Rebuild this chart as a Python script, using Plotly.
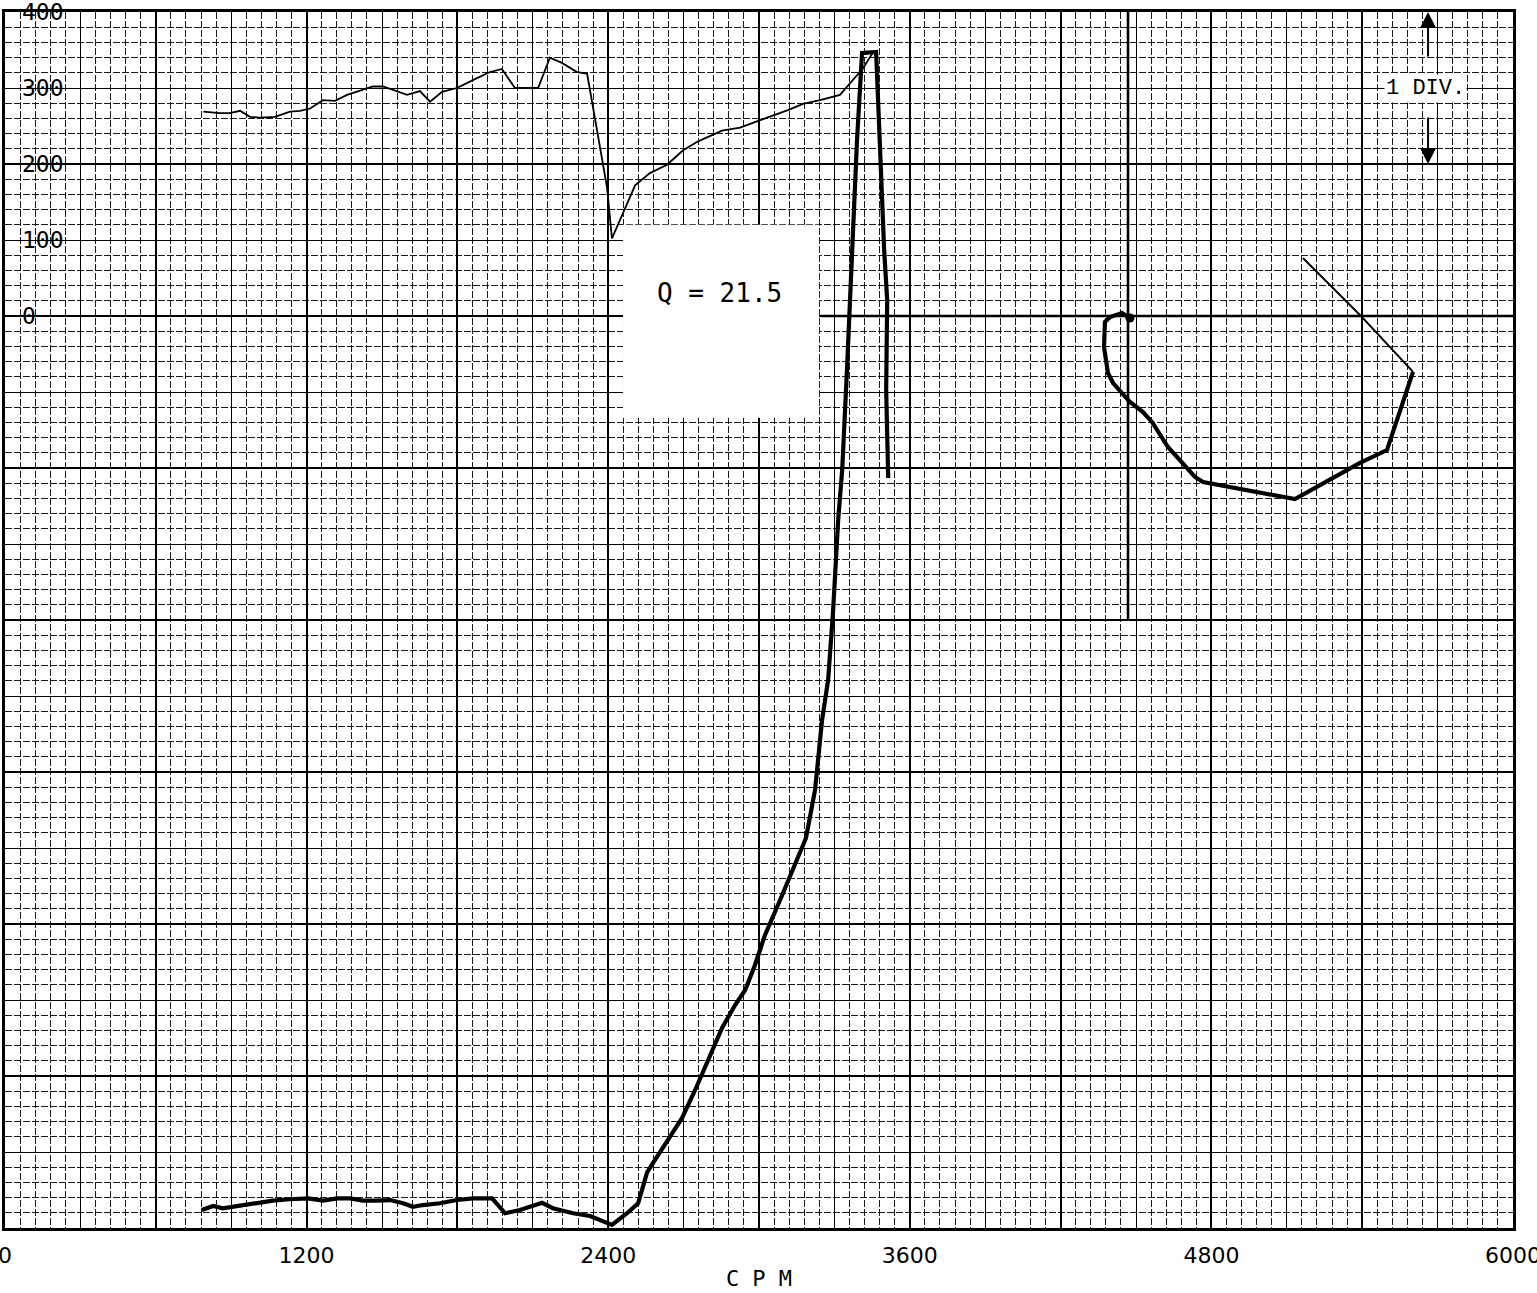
import plotly.graph_objects as go

# ---------------- data ----------------
# Phase (degrees) vs speed (CPM) - thin upper trace
phase_cpm = [789, 855, 895, 935, 975, 1015, 1074, 1134, 1174, 1214, 1265, 1313, 1361, 1424,
             1464, 1504, 1544, 1600, 1651, 1691, 1739, 1798, 1878, 1930, 1977, 2029, 2121,
             2168, 2216, 2276, 2316, 2395, 2415, 2507, 2566, 2634, 2698, 2753, 2793, 2853,
             2925, 2992, 3056, 3115, 3175, 3243, 3322, 3414, 3454]
phase_deg = [269, 267, 267, 270, 262, 261, 262, 269, 270, 273, 284, 283, 291, 298,
             302, 302, 297, 291, 296, 282, 295, 300, 313, 321, 325, 300, 300,
             340, 333, 321, 319, 170, 102, 172, 188, 199, 218, 229, 235, 244,
             248, 256, 263, 271, 279, 284, 291, 326, 347]

# Amplitude (chart divisions) vs speed (CPM) - thick lower trace
amp_cpm = [783, 828, 867, 907, 963, 1015, 1066, 1134, 1206, 1265, 1321, 1373, 1424, 1480,
           1532, 1584, 1623, 1663, 1731, 1798, 1862, 1938, 1990, 2049, 2137, 2180, 2260,
           2328, 2415, 2475, 2519, 2555, 2626, 2694, 2746, 2797, 2853, 2905, 2945, 2984,
           3024, 3084, 3143, 3187, 3223, 3251, 3275, 3295, 3315, 3331, 3350, 3370, 3390,
           3410, 3466, 3498, 3510, 3506, 3514]
amp_div = [0.118, 0.145, 0.130, 0.140, 0.151, 0.163, 0.180, 0.189, 0.195, 0.180, 0.195,
           0.195, 0.180, 0.180, 0.184, 0.163, 0.140, 0.151, 0.163, 0.184, 0.195, 0.195,
           0.097, 0.118, 0.166, 0.130, 0.097, 0.079, 0.020, 0.097, 0.163, 0.368, 0.546,
           0.724, 0.908, 1.105, 1.316, 1.467, 1.566, 1.730, 1.928, 2.158, 2.388, 2.566,
           2.882, 3.342, 3.605, 4.066, 4.658, 4.987, 5.645, 6.434, 7.158, 7.730, 7.737,
           6.434, 6.105, 5.513, 4.934]

# Polar (Nyquist) plot, in divisions relative to the polar origin
polar_re = [0.013, -0.040, -0.119, -0.153, -0.159, -0.133, -0.099, 0.013, 0.099, 0.159,
            0.265, 0.345, 0.444, 0.497, 1.107, 1.538, 1.717, 1.890, 1.538, 1.160]
polar_im = [-0.013, 0.020, -0.007, -0.039, -0.204, -0.375, -0.441, -0.566, -0.632, -0.697,
            -0.862, -0.947, -1.059, -1.092, -1.204, -0.967, -0.882, -0.368, 0.007, 0.382]
polar_thin_from = 17          # index where the trace becomes a thin line
polar_axis_re = [-2.04, 2.6]  # extent of the polar cross-hair (divisions)
polar_axis_im = [-2.0, 2.0]

# Axis / tick definitions
x_range = [0, 6000]
x_major = 600
x_label_every = 1200
x_mid = 300
x_minor = 60
phase_range = [-1200, 400]
phase_major = 200
phase_mid = 100
phase_minor = 20
phase_labels_from = 0
amp_range = [0, 8]
polar_x_range = [-7.447, 2.553]
polar_y_range = [-6.0, 2.0]

q_text = "Q = 21.5"
div_text = "1 DIV."
x_title = "C P M"

# ---------------- figure ----------------
INK = "#000000"
MONO = "DejaVu Sans Mono"

x_ticks = list(range(x_range[0], x_range[1] + 1, x_major))
x_ticktext = [str(v) if v % x_label_every == 0 else "" for v in x_ticks]
y_major_ticks = list(range(phase_range[0], phase_range[1] + 1, phase_major))
y_mid_ticks = list(range(phase_range[0], phase_range[1] + 1, phase_mid))
y_mid_text = [str(v) if v >= phase_labels_from else "" for v in y_mid_ticks]

fig = go.Figure()

# grid carrier (mid-level grid + phase labels)
fig.add_trace(go.Scatter(x=[], y=[], xaxis="x2", yaxis="y2", showlegend=False, hoverinfo="skip"))

# phase curve
fig.add_trace(go.Scatter(x=phase_cpm, y=phase_deg, mode="lines",
                         line=dict(color=INK, width=1.8), xaxis="x", yaxis="y",
                         showlegend=False, name="Phase"))
# amplitude curve
fig.add_trace(go.Scatter(x=amp_cpm, y=amp_div, mode="lines",
                         line=dict(color=INK, width=4.2), xaxis="x", yaxis="y3",
                         showlegend=False, name="Amplitude"))
# polar cross-hair
fig.add_trace(go.Scatter(x=polar_axis_re, y=[0, 0], mode="lines",
                         line=dict(color=INK, width=2.6), xaxis="x4", yaxis="y4",
                         showlegend=False, hoverinfo="skip"))
fig.add_trace(go.Scatter(x=[0, 0], y=polar_axis_im, mode="lines",
                         line=dict(color=INK, width=2.6), xaxis="x4", yaxis="y4",
                         showlegend=False, hoverinfo="skip"))
# polar curve
fig.add_trace(go.Scatter(x=polar_re[:polar_thin_from + 1], y=polar_im[:polar_thin_from + 1],
                         mode="lines", line=dict(color=INK, width=4.2),
                         xaxis="x4", yaxis="y4", showlegend=False, name="Polar"))
fig.add_trace(go.Scatter(x=polar_re[polar_thin_from:], y=polar_im[polar_thin_from:],
                         mode="lines", line=dict(color=INK, width=2.0),
                         xaxis="x4", yaxis="y4", showlegend=False, name="Polar tail"))
fig.add_trace(go.Scatter(x=polar_re[:1], y=polar_im[:1], mode="markers",
                         marker=dict(color=INK, size=9), xaxis="x4", yaxis="y4",
                         showlegend=False, hoverinfo="skip"))

minor_grid = dict(showgrid=True, gridcolor="#1a1a1a", gridwidth=1,
                  griddash="7px,2px", ticks="")

fig.update_layout(
    width=1537, height=1293,
    margin=dict(l=5, r=24, t=12, b=65, autoexpand=False),
    paper_bgcolor="white", plot_bgcolor="white",
    showlegend=False,
    xaxis=dict(
        range=x_range, tickmode="array", tickvals=x_ticks, ticktext=x_ticktext,
        showgrid=True, gridcolor=INK, gridwidth=2.2,
        minor=dict(dtick=x_minor, tick0=0, **minor_grid),
        showline=True, mirror=True, linecolor=INK, linewidth=2.5,
        ticks="", zeroline=False, ticklabeloverflow="allow", ticklabelstandoff=6,
        automargin=False,
        tickfont=dict(family="DejaVu Sans", size=22, color=INK),
        title=dict(text=x_title, standoff=4,
                   font=dict(family=MONO, size=22, color=INK)),
    ),
    yaxis=dict(
        range=phase_range, tickmode="array", tickvals=y_major_ticks,
        showticklabels=False, showgrid=True, gridcolor=INK, gridwidth=2.2,
        minor=dict(dtick=phase_minor, tick0=0, **minor_grid),
        showline=True, mirror=True, linecolor=INK, linewidth=2.5,
        ticks="", zeroline=False, automargin=False,
    ),
    xaxis2=dict(
        range=x_range, overlaying="x", anchor="y2", tickmode="linear", tick0=0,
        dtick=x_mid, showgrid=True, gridcolor=INK, gridwidth=1.3,
        showticklabels=False, ticks="", showline=False, zeroline=False, automargin=False,
    ),
    yaxis2=dict(
        range=phase_range, overlaying="y", anchor="x2", side="left",
        tickmode="array", tickvals=y_mid_ticks, ticktext=y_mid_text,
        showgrid=True, gridcolor=INK, gridwidth=1.3,
        ticks="", showline=False, zeroline=False, automargin=False,
        ticklabelposition="inside", ticklabeloverflow="allow", ticklabelstandoff=14,
        tickfont=dict(family=MONO, size=23, color=INK),
    ),
    yaxis3=dict(range=amp_range, overlaying="y", anchor="x", visible=False),
    xaxis4=dict(range=polar_x_range, overlaying="x", anchor="y4", visible=False),
    yaxis4=dict(range=polar_y_range, overlaying="y", anchor="x4", visible=False),
)

# white label box with Q value
fig.add_shape(type="rect", xref="x", yref="y", x0=2459, x1=3239, y0=-134, y1=120,
              fillcolor="white", line=dict(width=0), layer="above")
fig.add_annotation(x=2841, y=30, xref="x", yref="y", text=q_text, showarrow=False,
                   font=dict(family=MONO, size=26, color=INK))

# "1 DIV." scale indicator (one amplitude division)
fig.add_annotation(x=5650, y=amp_range[1] - 0.5, xref="x", yref="y3", text=div_text,
                   showarrow=False, bgcolor="white",
                   font=dict(family="Liberation Mono", size=22, color=INK))
fig.add_annotation(x=5662, y=amp_range[1], xref="x", yref="y3", ax=0, ay=46, text="",
                   showarrow=True, arrowhead=2, arrowsize=1.6, arrowwidth=2, arrowcolor=INK)
fig.add_annotation(x=5662, y=amp_range[1] - 1, xref="x", yref="y3", ax=0, ay=-48, text="",
                   showarrow=True, arrowhead=2, arrowsize=1.6, arrowwidth=2, arrowcolor=INK)

fig.write_html("out.html")
